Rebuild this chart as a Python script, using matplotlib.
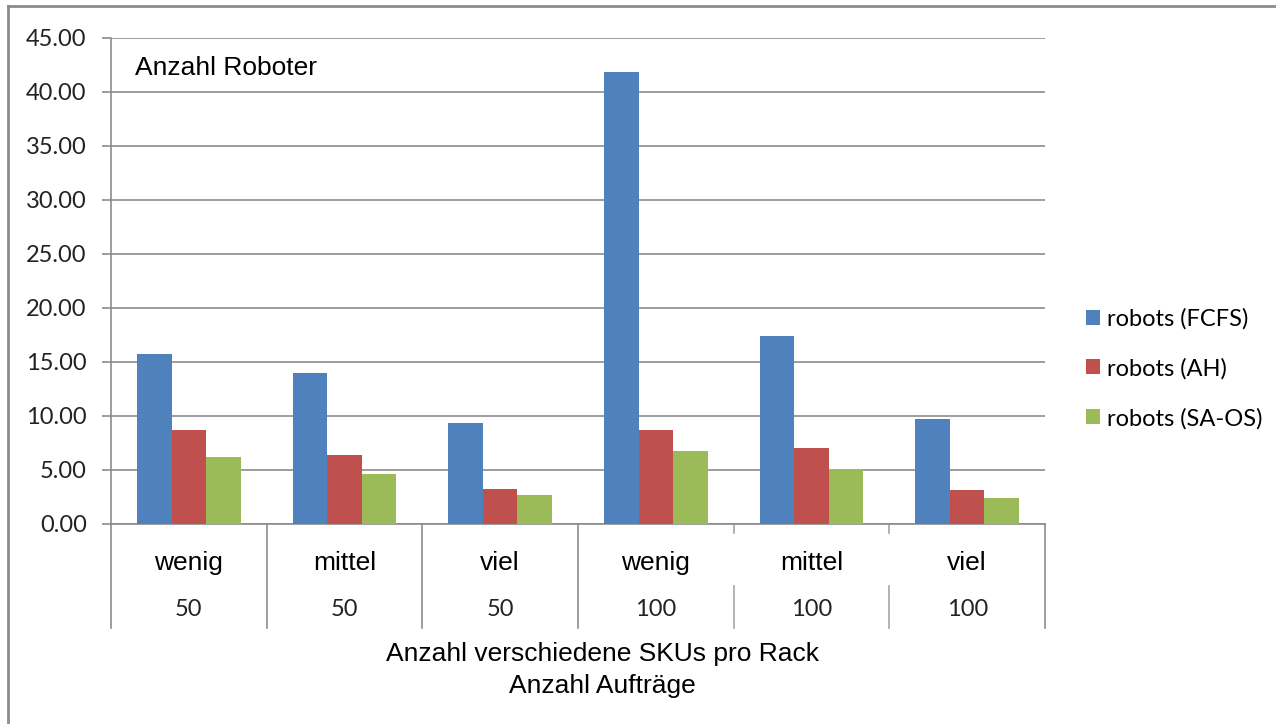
import numpy as np
import matplotlib.pyplot as plt
from matplotlib.lines import Line2D
from matplotlib.patches import Patch
import matplotlib.transforms as mtransforms

level1 = ["wenig", "mittel", "viel", "wenig", "mittel", "viel"]
level2 = ["50", "50", "50", "100", "100", "100"]
series = ["robots (FCFS)", "robots (AH)", "robots (SA-OS)"]
fcfs = [15.74, 13.98, 9.35, 41.85, 17.41, 9.69]
ah = [8.64, 6.39, 3.18, 8.64, 6.97, 3.06]
saos = [6.14, 4.59, 2.62, 6.72, 5.09, 2.37]
colors = ["#4F81BD", "#C0504D", "#9BBB59"]
yticks = np.arange(0, 46, 5)

W, H = 1276, 724
fig = plt.figure(figsize=(W / 100, H / 100), dpi=100)
ax = fig.add_axes([111 / W, 1 - 523.5 / H, 934 / W, (523.5 - 37.7) / H])

x = np.arange(len(level1))
bw = 0.222
for i, (vals, c) in enumerate(zip([fcfs, ah, saos], colors)):
    ax.bar(x + (i - 1) * bw, vals, bw, color=c, zorder=3)

ax.set_xlim(-0.5, len(level1) - 0.5)
ax.set_ylim(0, 45)
ax.set_yticks(yticks)
ax.set_yticklabels([f"{v:.2f}" for v in yticks], family="Lato", fontsize=17, color="#222222")
ax.set_xticks([])
ax.yaxis.grid(True, color="#8c8c8c", lw=1.2, zorder=0)
for s in ["top", "right"]:
    ax.spines[s].set_visible(False)
for s in ["left", "bottom"]:
    ax.spines[s].set_color("#8c8c8c")
    ax.spines[s].set_linewidth(1.2)
ax.tick_params(axis="y", length=6.5, width=1.2, color="#8c8c8c", pad=11)

# category axis with two levels
trans = mtransforms.blended_transform_factory(ax.transData, ax.transAxes)
bottom = (523.5 - 628) / (523.5 - 37.7)
lvl2_top = (523.5 - 586) / (523.5 - 37.7)
short = (523.5 - 533) / (523.5 - 37.7)
for b in np.arange(-0.5, len(level1)):
    if b in (3.5, 4.5):
        ax.add_line(Line2D([b, b], [0, short], transform=trans, color="#a6a6a6", lw=1.2, clip_on=False))
        ax.add_line(Line2D([b, b], [lvl2_top, bottom], transform=trans, color="#a6a6a6", lw=1.2, clip_on=False))
    else:
        ax.add_line(Line2D([b, b], [0, bottom], transform=trans, color="#8c8c8c", lw=1.2, clip_on=False))
for xi, l1, l2 in zip(x, level1, level2):
    ax.text(xi, (523.5 - 563) / (523.5 - 37.7), l1, transform=trans, ha="center", va="center",
            family="Liberation Sans", fontsize=19)
    ax.text(xi, (523.5 - 610) / (523.5 - 37.7), l2, transform=trans, ha="center", va="center",
            family="Lato", fontsize=17, color="#222222")

ax.text(0.0257, 0.9376, "Anzahl Roboter", transform=ax.transAxes, ha="left", va="center",
        family="Liberation Sans", fontsize=19)

fig.text(602 / W, 1 - 670 / H, "Anzahl verschiedene SKUs pro Rack\nAnzahl Aufträge",
         ha="center", va="center", family="Liberation Sans", fontsize=19, linespacing=1.38)

handles = [Patch(facecolor=c, edgecolor="none") for c in colors]
fig.legend(handles, series, loc="center left", bbox_to_anchor=(1086 / W, 1 - 368.5 / H),
           frameon=False, prop={"family": "Lato", "size": 17}, handlelength=0.6,
           handleheight=0.6, handletextpad=0.3, labelspacing=1.2, borderpad=0, borderaxespad=0)

# chart border
fig.add_artist(Line2D([8 / W, 8 / W], [0, 1 - 6 / H], transform=fig.transFigure, color="#8c8c8c", lw=2))
fig.add_artist(Line2D([8 / W, 1], [1 - 6 / H, 1 - 6 / H], transform=fig.transFigure, color="#8c8c8c", lw=2))

fig.savefig("out.png", dpi=100)
